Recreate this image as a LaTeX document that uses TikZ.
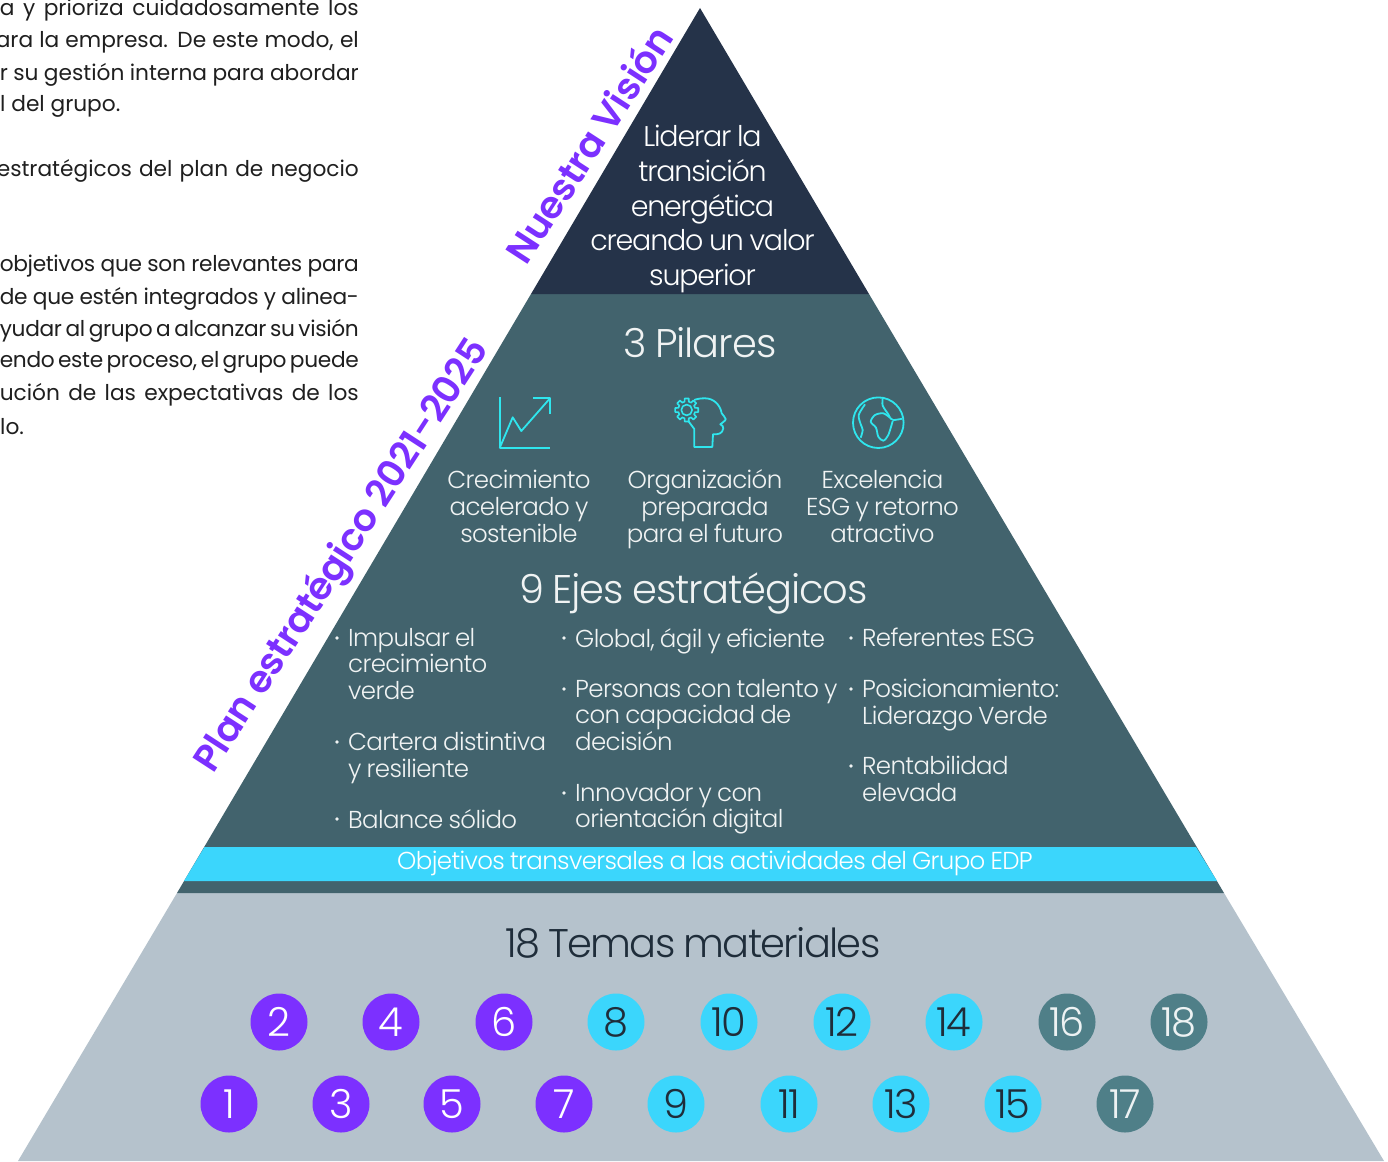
\documentclass[tikz,border=0pt]{standalone}
\usepackage{fontspec}
\setmainfont{Poppins}
\newfontfamily\tightb[LetterSpace=-1.5]{Poppins}
\newfontfamily\figl[LetterSpace=-2.6,WordSpace=0.85]{Poppins Light}
\newfontfamily\figb[LetterSpace=-4.2,WordSpace=0.85]{Poppins Light}
\newfontfamily\figm[LetterSpace=-1]{Poppins SemiBold}
\definecolor{navy}{HTML}{253349}
\definecolor{slate}{HTML}{42636D}
\definecolor{mist}{HTML}{B5C2CC}
\definecolor{aqua}{HTML}{3BD6FC}
\definecolor{violet}{HTML}{7C30FF}
\definecolor{sea}{HTML}{4F7F88}
\definecolor{ink}{HTML}{1F2D3A}
\definecolor{neon}{HTML}{2FE6EE}
\newcommand{\jl}[2]{\hbox to #1pt{\spaceskip=0.25em plus 1fil minus 1fil\relax #2}}
\newcommand{\fs}[2]{\fontsize{#1}{#2}\selectfont}
\tikzset{x=1pt,y=-1pt,
 body/.style={anchor=east,inner sep=0,text=black!88,font=\fs{21.7}{32}},
 lab/.style={inner sep=0,text=white,align=center},
 pillar/.style={lab,text=white!92!slate,font=\figl\fs{24.5}{27}},
 axis/.style={lab,anchor=north west,align=left,text=white!92!slate,font=\figl\fs{24.5}{26.5}},
 dotn/.style={circle,minimum size=57pt,inner sep=0,font=\figb\fs{40}{40}},
 pur/.style={dotn,fill=violet,text=white},
 aq/.style={dotn,fill=aqua,text=ink},
 se/.style={dotn,fill=sea,text=white!90!sea},
 ico/.style={draw=neon,line width=1.8pt,line join=round},
 side/.style={inner sep=0,text=violet,font=\figm\fs{37.6}{38}}}
\begin{document}
\begin{tikzpicture}
\clip (0,0) rectangle (1388,1161);
\fill[white] (0,0) rectangle (1388,1161);
% body text
\node[body] at (359,10.5) {\jl{359}{a y prioriza cuidadosamente los}};
\node[body] at (359,42.5) {\jl{363}{ara la empresa. De este modo, el}};
\node[body] at (359,74.5) {\jl{359}{r su gestión interna para abordar}};
\node[body,anchor=west] at (0,106.5) {l del grupo.};
\node[body] at (359,170.5) {\jl{362}{estratégicos del plan de negocio}};
\node[body] at (359,266.5) {\jl{359}{\tightb objetivos que son relevantes para}};
\node[body] at (359,298.5) {\jl{359}{\tightb de que estén integrados y alinea-}};
\node[body] at (359,330.5) {\jl{359}{\tightb yudar al grupo a alcanzar su visión}};
\node[body] at (359,362.5) {\jl{359}{\tightb endo este proceso, el grupo puede}};
\node[body] at (359,394.5) {\jl{359}{ución de las expectativas de los}};
\node[body,anchor=west] at (0,426.5) {lo.};
% pyramid
\fill[mist] (177,893) -- (1224,893) -- (1384,1161) -- (18,1161) -- cycle;
\fill[slate] (531,294) -- (869,294) -- (1224,893) -- (177,893) -- cycle;
\fill[navy] (700,8) -- (869,294) -- (531,294) -- cycle;
\fill[aqua] (204.5,847) -- (1196,847) -- (1217,881) -- (184,881) -- cycle;
% texts
\node[lab,font=\figb\fs{28.5}{34.7}] (vision) at (702.5,209) {Liderar la\\transición\\energética\\creando un valor\\superior};
\node[lab,text=white!92!slate,font=\figl\fs{40}{40}] (pilares) at (700,343) {3 Pilares};
\node[pillar] (p1) at (519,506) {Crecimiento\\acelerado y\\sostenible};
\node[pillar] (p2) at (705,509) {Organización\\preparada\\para el futuro};
\node[pillar] (p3) at (882.5,506) {Excelencia\\ESG y retorno\\atractivo};
\node[lab,text=white!92!slate,font=\figl\fs{40}{40}] (ejes) at (693.5,593) {9 Ejes estratégicos};
\foreach \x/\y/\t in {
 334/628/{Impulsar el\\crecimiento\\verde},
 334/732/{Cartera distintiva\\y resiliente},
 334/809/{Balance sólido},
 561/628/{Global, ágil y eficiente},
 561/679/{Personas con talento y\\con capacidad de\\decisión},
 561/783/{Innovador y con\\orientación digital},
 848/628/{Referentes ESG},
 848/679/{Posicionamiento:\\Liderazgo Verde},
 848/756/{Rentabilidad\\elevada}}
 {\node[axis,xshift=14pt] at (\x,\y) {\t};
  \fill[white!92!slate] (\x+3,\y+10) circle (1.9);}
\node[lab,font=\figl\fs{24.5}{26}] (obj) at (715,863) {Objetivos transversales a las actividades del Grupo EDP};
\node[lab,text=ink,font=\figb\fs{40}{40}] (temas) at (693,943) {18 Temas materiales};
% circles
\foreach \x/\n/\s in {279/2/pur,391/4/pur,504/6/pur,616/8/aq,729/10/aq,842/12/aq,954/14/aq,1067/16/se,1179/18/se}
 \node[\s] (c\n) at (\x,1022) {\n};
\foreach \x/\n/\s in {229/1/pur,341/3/pur,452/5/pur,564/7/pur,676/9/aq,789/11/aq,901/13/aq,1013/15/aq,1125/17/se}
 \node[\s] (c\n) at (\x,1104) {\n};
% side labels
\node[side,rotate=57] (nv) at (588,144) {Nuestra Visión};
\node[side,rotate=57] (pe) at (343,556) {Plan estratégico 2021-2025};
% icons
\draw[ico] (499.7,397.3) -- (499.7,448) -- (550,448);
\draw[ico] (499.7,448) -- (512.7,417.3) -- (521.3,431) -- (550,398.3);
\draw[ico] (533.3,398.3) -- (550,398.3) -- (550,414);
% head
\draw[ico] (688.3,421) -- (694.3,429) -- (694.3,447) -- (712.3,447) -- (713,434.3)
  .. controls (718,434.5) and (722.5,434) .. (723.3,428.3)
  .. controls (723.5,426.5) and (722,425) .. (720.3,424.3)
  .. controls (722,422.5) and (725.7,421) .. (725.7,419)
  .. controls (725.7,417) and (722.5,415.5) .. (721.7,413.3)
  .. controls (720,404) and (713,398.3) .. (705,398.3)
  .. controls (701,398.3) and (697,398.8) .. (694.3,400);
\begin{scope}[shift={(686.7,410)}]
 \draw[ico,line width=1.6pt] (-14:8.6) \foreach \a in {0,45,...,315} { -- (\a-14:8.6) -- (\a-10:11.7) -- (\a+10:11.7) -- (\a+14:8.6) } -- cycle;
 \draw[ico,line width=1.6pt] (0,0) circle (5.4);
\end{scope}
% globe
\draw[ico] (878.3,422.7) circle (25.3);
\draw[ico] plot[smooth] coordinates {(865,404.3) (858.7,415) (860.7,424.3) (862.7,430) (860.7,437.7)};
\draw[ico] plot[smooth] coordinates {(882.7,398.3) (882.7,405.7) (888.3,414.3) (890,417.7)};
\draw[ico] plot[smooth] coordinates {(890,417.7) (893.3,420) (902.3,418.7)};
\draw[ico] plot[smooth] coordinates {(890,417.7) (883.3,413.3) (875,415) (870.7,421.7) (876,427.7) (878.3,436.7) (883.3,440.7) (888.3,435) (892.7,421)};
\end{tikzpicture}
\end{document}
